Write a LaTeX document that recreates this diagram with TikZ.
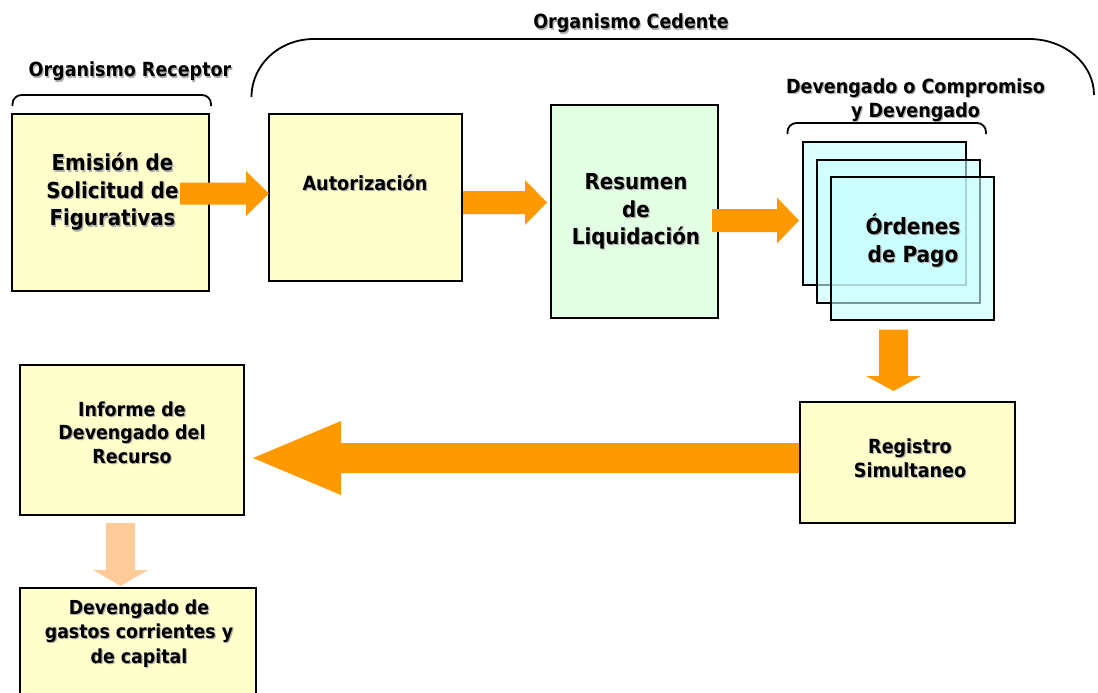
\documentclass[tikz,border=0pt]{standalone}
\usepackage{fontspec}
\setmainfont{DejaVu Sans Condensed}
\usetikzlibrary{calc}

\definecolor{boxyellow}{HTML}{FFFFCC}
\definecolor{boxgreen}{HTML}{E3FFE3}
\definecolor{pagecyan}{HTML}{C8FFFF}
\definecolor{flowfill}{HTML}{FF9900}
\definecolor{flowlight}{HTML}{FFCC99}
\definecolor{shadowgray}{HTML}{B0B0B0}

% text with a soft drop shadow
\newcommand\sh[1]{\leavevmode\rlap{\kern1.2pt\raisebox{-1.2pt}{\textcolor{shadowgray}{#1}}}#1}

% block arrow: style, tail, tip, shaft half width, head half width, head length
\newcommand\fatarrow[6]{%
  \path (#3) coordinate (fa-tip) ($(#3)!#6!(#2)$) coordinate (fa-base) (#2) coordinate (fa-tail);
  \fill[#1] ($(fa-tail)!#4!90:(fa-tip)$) -- ($(fa-base)!#4!90:(fa-tip)$)
    -- ($(fa-base)!#5!90:(fa-tip)$) -- (fa-tip) -- ($(fa-base)!#5!-90:(fa-tip)$)
    -- ($(fa-base)!#4!-90:(fa-tip)$) -- ($(fa-tail)!#4!-90:(fa-tip)$) -- cycle;}

\tikzset{
  stepbox/.style={draw=black, line width=2pt, inner sep=0pt, fill=boxyellow},
  pagebox/.style={draw=black, line width=2pt, inner sep=0pt, fill=pagecyan, fill opacity=0.6,
                  minimum width=163pt, minimum height=143pt},
  lbl/.style={font=\bfseries, align=center, inner sep=0pt},
  brace/.style={draw=black, line width=1.8pt},
}

\begin{document}
\begin{tikzpicture}[x=1pt, y=-1pt]
\useasboundingbox (0,0) rectangle (1098,693);
\clip (0,0) rectangle (1098,693);

% group braces and their titles
\draw[brace, rounded corners=9pt] (12.5,106) -- (12.5,95) -- (211,95) -- (211,106);
\node[lbl, font=\bfseries\fontsize{19.5}{25}\selectfont, anchor=base] (receptor) at (130,77) {\sh{Organismo Receptor}};

\draw[brace] (251.5,97) .. controls (251.5,65) and (279,39) .. (314,39) -- (1029,39)
  .. controls (1065,39) and (1094,64) .. (1094,95);
\node[lbl, font=\bfseries\fontsize{19.5}{25}\selectfont, anchor=base] (cedente) at (631,29) {\sh{Organismo Cedente}};

\draw[brace, rounded corners=9pt] (787.5,134) -- (787.5,123) -- (986,123) -- (986,134);
\node[lbl, font=\bfseries\fontsize{19.5}{24}\selectfont] (compromiso) at (915.5,101) {\sh{Devengado o Compromiso}\\\sh{y Devengado}};

% process boxes
\node[stepbox, minimum width=197pt, minimum height=177pt] (emision) at (110.5,202.5) {};
\node[stepbox, minimum width=193pt, minimum height=167pt] (autoriz) at (365.5,197.5) {};
\node[stepbox, fill=boxgreen, minimum width=167pt, minimum height=213pt] (resumen) at (634.5,211.5) {};
\node[stepbox, minimum width=215pt, minimum height=121pt] (registro) at (907.5,462.5) {};
\node[stepbox, minimum width=224pt, minimum height=150pt] (informe) at (132,440) {};
\node[stepbox, minimum width=236pt, minimum height=160pt] (devengado) at (138,668) {};

% stacked payment orders
\node[pagebox] (page1) at (884.5,213.5) {};
\node[pagebox] (page2) at (898.5,231) {};
\node[pagebox] (page3) at (912.5,248) {};

% box texts
\node[lbl, font=\bfseries\fontsize{22}{27.5}\selectfont] (t-emision) at (112.5,192.5)
  {\sh{Emisión de}\\\sh{Solicitud de}\\\sh{Figurativas}};
\node[lbl, font=\bfseries\fontsize{19.6}{25}\selectfont, anchor=base] (t-autoriz) at (365,190)
  {\sh{Autorización}};
\node[lbl, font=\bfseries\fontsize{22}{27.5}\selectfont] (t-resumen) at (636,212)
  {\sh{Resumen}\\\sh{de}\\\sh{Liquidación}};
\node[lbl, font=\bfseries\fontsize{22.3}{28}\selectfont] (t-ordenes) at (913,241)
  {\sh{Órdenes}\\\sh{de Pago}};
\node[lbl, font=\bfseries\fontsize{19.5}{24}\selectfont] (t-registro) at (910,459)
  {\sh{Registro}\\\sh{Simultaneo}};
\node[lbl, font=\bfseries\fontsize{19.4}{23.5}\selectfont] (t-informe) at (132,433)
  {\sh{Informe de}\\\sh{Devengado del}\\\sh{Recurso}};
\node[lbl, font=\bfseries\fontsize{19.3}{24.5}\selectfont] (t-devengado) at (139,634)
  {\sh{Devengado de}\\\sh{gastos corrientes y}\\\sh{de capital}};

% flow arrows
\coordinate (a1) at (180,193.5);
\fatarrow{flowfill}{a1}{$(autoriz.west |- a1)+(1,0)$}{11pt}{22.5pt}{23pt}
\coordinate (a2) at (autoriz.east |- 0,202.5);
\fatarrow{flowfill}{a2}{$(resumen.west |- a2)+(-3,0)$}{11.5pt}{22.5pt}{22pt}
\coordinate (a3) at ($(resumen.east |- 0,220.5)+(-7,0)$);
\fatarrow{flowfill}{a3}{$(page1.west |- a3)+(-3,0)$}{11.5pt}{23pt}{22pt}
\coordinate (a4) at ($(page3.south -| 893.5,0)+(0,9)$);
\fatarrow{flowfill}{a4}{$(registro.north -| a4)+(0,-10)$}{14.5pt}{27.5pt}{15pt}
\coordinate (a5) at (registro.west |- 0,458);
\fatarrow{flowfill}{a5}{$(informe.east |- a5)+(8,0)$}{15pt}{37pt}{88pt}
\coordinate (a6) at ($(informe.south -| 120.5,0)+(0,7)$);
\fatarrow{flowlight}{a6}{$(devengado.north -| a6)+(0,-1)$}{14.5pt}{27.5pt}{16pt}
\end{tikzpicture}
\end{document}
